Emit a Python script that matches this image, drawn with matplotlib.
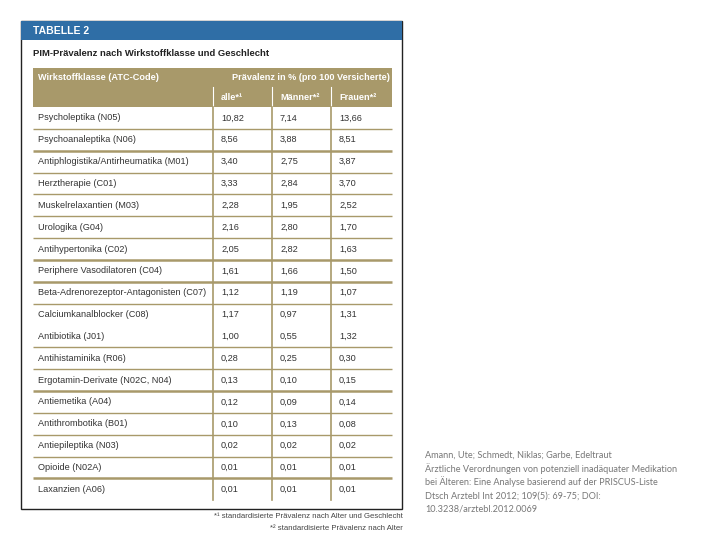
import matplotlib
matplotlib.use("Agg")
import matplotlib.pyplot as plt
from matplotlib.patches import Rectangle

plt.rcParams['font.family'] = ['Liberation Sans', 'DejaVu Sans']

# table content
categories = [
    "Psycholeptika (N05)", "Psychoanaleptika (N06)",
    "Antiphlogistika/Antirheumatika (M01)", "Herztherapie (C01)",
    "Muskelrelaxantien (M03)", "Urologika (G04)", "Antihypertonika (C02)",
    "Periphere Vasodilatoren (C04)", "Beta-Adrenorezeptor-Antagonisten (C07)",
    "Calciumkanalblocker (C08)", "Antibiotika (J01)", "Antihistaminika (R06)",
    "Ergotamin-Derivate (N02C, N04)", "Antiemetika (A04)",
    "Antithrombotika (B01)", "Antiepileptika (N03)", "Opioide (N02A)",
    "Laxanzien (A06)",
]
alle = [10.82, 8.56, 3.40, 3.33, 2.28, 2.16, 2.05, 1.61, 1.12, 1.17, 1.00,
        0.28, 0.13, 0.12, 0.10, 0.02, 0.01, 0.01]
maenner = [7.14, 3.88, 2.75, 2.84, 1.95, 2.80, 2.82, 1.66, 1.19, 0.97, 0.55,
           0.25, 0.10, 0.09, 0.13, 0.02, 0.01, 0.01]
frauen = [13.66, 8.51, 3.87, 3.70, 2.52, 1.70, 1.63, 1.50, 1.07, 1.31, 1.32,
          0.30, 0.15, 0.14, 0.08, 0.02, 0.01, 0.01]
col_labels = ["alle*¹", "Männer*²", "Frauen*²"]
footnotes = ["*¹ standardisierte Prävalenz nach Alter und Geschlecht",
             "*² standardisierte Prävalenz nach Alter"]
citation = [
    "Amann, Ute; Schmedt, Niklas; Garbe, Edeltraut",
    "Ärztliche Verordnungen von potenziell inadäquater Medikation",
    "bei Älteren: Eine Analyse basierend auf der PRISCUS-Liste",
    "Dtsch Arztebl Int 2012; 109(5): 69-75; DOI:",
    "10.3238/arztebl.2012.0069",
]

BLUE = "#2f6ea6"
TAN = "#a8996a"
TXT = "#333333"

fig = plt.figure(figsize=(7.2, 5.4), dpi=100)
ax = fig.add_axes([0, 0, 1, 1])
ax.set_xlim(0, 720)
ax.set_ylim(540, 0)
ax.axis("off")

# outer frame and blue band
ax.add_patch(Rectangle((20.5, 20.5), 381.5, 488, fill=False, ec="#222222", lw=1.0))
ax.add_patch(Rectangle((21, 21), 381, 19, color=BLUE, lw=0))
ax.text(33, 31, "TABELLE 2", color="white", fontsize=7.5, fontweight="bold",
        va="center", ha="left")
ax.text(33, 54, "PIM-Prävalenz nach Wirkstoffklasse und Geschlecht", color="#222222",
        fontsize=6.8, fontweight="bold", va="center", ha="left")

# header
x_left, x_right = 33, 392
col_x = [213, 272, 331]
ax.add_patch(Rectangle((x_left, 68), x_right - x_left, 39, color=TAN, lw=0))
ax.text(38, 77, "Wirkstoffklasse (ATC-Code)", color="white", fontsize=6.6,
        fontweight="bold", va="center", ha="left")
ax.text(390, 77, "Prävalenz in % (pro 100 Versicherte)", color="white",
        fontsize=6.6, fontweight="bold", va="center", ha="right")
for cx, lab in zip(col_x, col_labels):
    ax.plot([cx, cx], [87, 107], color="white", lw=0.8)
    ax.text(cx + 8, 97, lab, color="white", fontsize=6.6, fontweight="bold",
            va="center", ha="left")

# rows
y0, rh = 107, 21.85
n = len(categories)
thick_after = {1, 6, 7, 12, 16}
no_line_after = {9}
for i in range(n):
    yc = y0 + (i + 0.5) * rh
    ax.text(38, yc, categories[i], color=TXT, fontsize=6.6, va="center", ha="left")
    for cx, vals in zip(col_x, [alle, maenner, frauen]):
        s = f"{vals[i]:.2f}".replace(".", ",")
        ax.text(cx + 8, yc, s, color=TXT, fontsize=6.6, va="center", ha="left")
    if i < n - 1 and i not in no_line_after:
        yl = y0 + (i + 1) * rh
        ax.plot([x_left, x_right], [yl, yl], color=TAN,
                lw=1.8 if i in thick_after else 1.0, solid_capstyle="butt")
for cx in col_x:
    ax.plot([cx, cx], [y0, y0 + n * rh], color=TAN, lw=1.2)

# footnotes
ax.text(403, 517, footnotes[0], color="#444444", fontsize=5.6, va="center", ha="right")
ax.text(403, 528, footnotes[1], color="#444444", fontsize=5.6, va="center", ha="right")

# citation
cit_y = [455, 469, 482, 496, 509]
for yy, line in zip(cit_y, citation):
    ax.text(425, yy, line, color="#777777", fontsize=6.6,
            family=["Lato", "DejaVu Sans"], va="center", ha="left")

fig.savefig("out.png", dpi=100, facecolor="white")
